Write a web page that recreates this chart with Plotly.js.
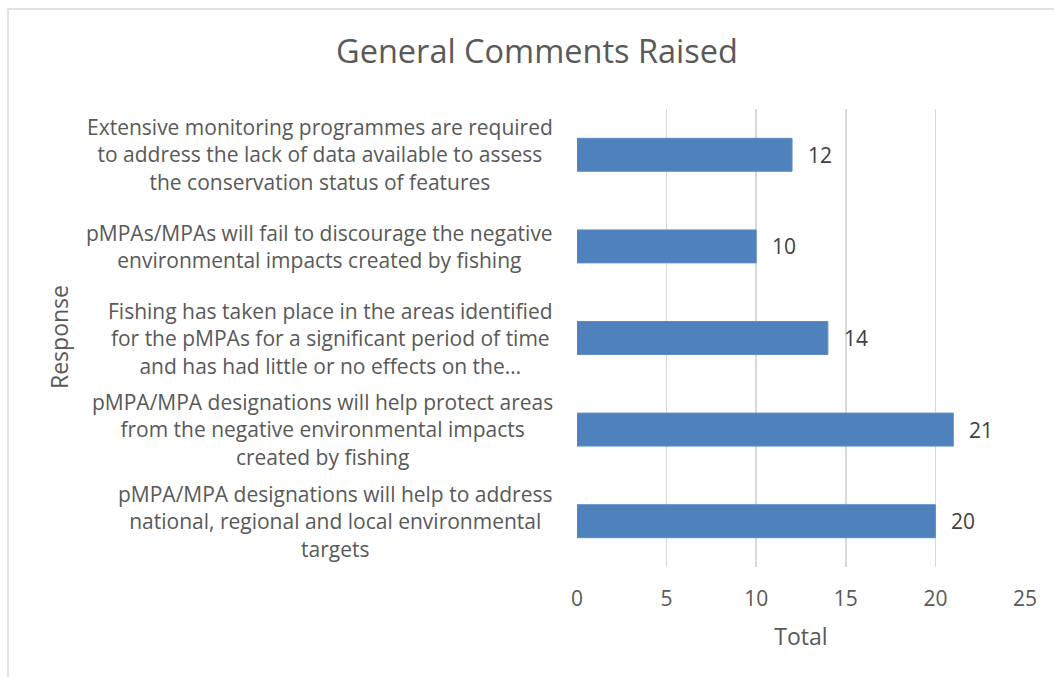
<!DOCTYPE html>
<html>
<head>
<meta charset="utf-8">
<script src="https://cdn.plot.ly/plotly-3.0.1.min.js"></script>
<style>html,body{margin:0;padding:0;background:#fff;}#chart{width:1054px;height:677px;}</style>
</head>
<body>
<div id="chart"></div>
<script>
// Categories listed bottom to top
const categories = [
  "pMPA/MPA designations will help to address<br>national, regional and local environmental<br>targets",
  "pMPA/MPA designations will help protect areas<br>from the negative environmental impacts<br>created by fishing",
  "Fishing has taken place in the areas identified<br>for the pMPAs for a significant period of time<br>and has had little or no effects on the…",
  "pMPAs/MPAs will fail to discourage the negative<br>environmental impacts created by fishing",
  "Extensive monitoring programmes are required<br>to address the lack of data available to assess<br>the conservation status of features"
];
const totals = [20, 21, 14, 10, 12];
const xTicks = [0, 5, 10, 15, 20, 25];

const FONT = "Open Sans, Noto Sans, sans-serif";
const GREY = "#595959";
const W = 1054, H = 677;
const L = 577, R = 1025, T = 109, B = 567;
const pw = R - L, ph = B - T;

const catIds = categories.map((c, i) => i);

const trace = {
  type: "bar",
  orientation: "h",
  x: totals,
  y: catIds,
  marker: {color: "#4F81BD", line: {color: "#5B8CC8", width: 1}},
  hoverinfo: "x"
};

const annotations = [];
categories.forEach((c, i) => {
  annotations.push({
    xref: "paper", yref: "y", x: 0, y: catIds[i],
    xanchor: "right", yanchor: "middle", xshift: -22,
    align: "center", showarrow: false, text: c,
    font: {family: FONT, size: 21, color: GREY}
  });
});
totals.forEach((v, i) => {
  annotations.push({
    xref: "x", yref: "y", x: v, y: catIds[i],
    xanchor: "left", yanchor: "middle", xshift: 14,
    showarrow: false, text: String(v),
    font: {family: FONT, size: 21, color: "#404040"}
  });
});

const layout = {
  width: W, height: H,
  margin: {l: L, r: W - R, t: T, b: H - B, pad: 0},
  paper_bgcolor: "#fff", plot_bgcolor: "#fff",
  showlegend: false,
  bargap: 0.64,
  title: {text: "General Comments Raised", x: 537 / W, xanchor: "center", y: 1 - 52 / H, yanchor: "middle",
          font: {family: FONT, size: 32.5, color: GREY}},
  xaxis: {
    range: [0, 25], tickvals: xTicks, ticktext: xTicks.map(String),
    showgrid: true, gridcolor: "#D9D9D9", gridwidth: 1.5,
    zeroline: false, showline: false, ticks: "",
    ticklabelstandoff: 17,
    tickfont: {family: FONT, size: 21, color: GREY},
    title: {text: "Total", standoff: 17, font: {family: FONT, size: 23, color: GREY}},
    fixedrange: true
  },
  yaxis: {
    range: [-0.5, categories.length - 0.5],
    tickvals: catIds, showticklabels: false,
    showgrid: false, zeroline: false, showline: false, ticks: "",
    fixedrange: true
  },
  annotations: annotations.concat([{
    xref: "paper", yref: "paper", x: (59 - L) / pw, y: (B - 337) / ph,
    xanchor: "center", yanchor: "middle", textangle: -90, showarrow: false,
    text: "Response", font: {family: FONT, size: 23, color: GREY}
  }]),
  shapes: [{
    type: "rect", xref: "paper", yref: "paper", layer: "below",
    x0: (8 - L) / pw, x1: (W + 10 - L) / pw,
    y0: (B - (H + 10)) / ph, y1: (B - 9) / ph,
    line: {color: "#D9D9D9", width: 1.5}, fillcolor: "rgba(0,0,0,0)"
  }]
};

Plotly.newPlot("chart", [trace], layout, {displayModeBar: false, staticPlot: true});
</script>
</body>
</html>
